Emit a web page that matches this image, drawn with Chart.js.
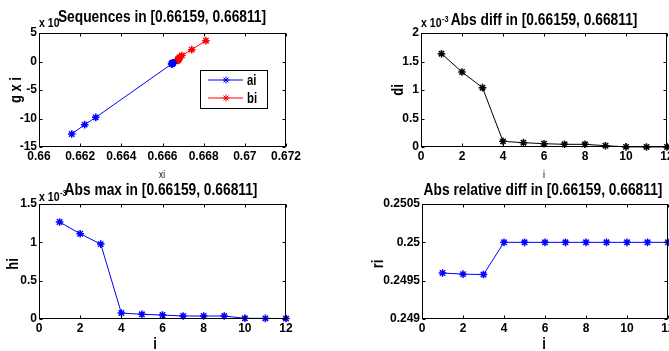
<!DOCTYPE html>
<html>
<head>
<meta charset="utf-8">
<script src="https://cdn.jsdelivr.net/npm/chart.js@4.4.0/dist/chart.umd.min.js"></script>
<style>
  html, body { margin: 0; padding: 0; background: #fff; overflow: hidden; width: 669px; height: 351px; }
  .plot { position: absolute; }
</style>
</head>
<body>
<div class="plot" style="left:0;top:0;width:335px;height:185px"><canvas id="c-seq"></canvas></div>
<div class="plot" style="left:335px;top:0;width:400px;height:185px"><canvas id="c-di"></canvas></div>
<div class="plot" style="left:0;top:175px;width:335px;height:176px"><canvas id="c-hi"></canvas></div>
<div class="plot" style="left:335px;top:175px;width:400px;height:176px"><canvas id="c-ri"></canvas></div>
<script>
// values
const IDX = [1, 2, 3, 4, 5, 6, 7, 8, 9, 10, 11, 12];

// sequences (g shown in the plot's own x10 units)
const aiX = [0.66159, 0.66222, 0.66276, 0.66644, 0.66646, 0.66647, 0.66648, 0.66649, 0.66650, 0.66651, 0.66651, 0.66652];
const aiG = [-12.72, -11.08, -9.80, -0.45, -0.40, -0.36, -0.33, -0.30, -0.28, -0.25, -0.24, -0.23];
const biX = [0.66811, 0.66742, 0.66694, 0.66684, 0.66680, 0.66678, 0.66677, 0.66676, 0.66675, 0.66674, 0.66674, 0.66674];
const biG = [3.65, 2.08, 1.05, 0.75, 0.55, 0.45, 0.38, 0.32, 0.28, 0.22, 0.20, 0.18];

const diVals = [1.637e-3, 1.316e-3, 1.041e-3, 0.099e-3, 0.076e-3, 0.058e-3, 0.047e-3, 0.047e-3, 0.023e-3, 0.002e-3, 0.001e-3, 0.0005e-3];
const hiVals = [1.265e-3, 1.112e-3, 0.977e-3, 0.078e-3, 0.061e-3, 0.052e-3, 0.039e-3, 0.039e-3, 0.039e-3, 0.009e-3, 0.008e-3, 0.006e-3];
const riVals = [0.24960, 0.249585, 0.24958, 0.25, 0.25, 0.25, 0.25, 0.25, 0.25, 0.25, 0.25, 0.25];

const seqXTicks = [0.66, 0.662, 0.664, 0.666, 0.668, 0.67, 0.672];
const seqYTicks = [-15, -10, -5, 0, 5];
const iTicks = [0, 2, 4, 6, 8, 10, 12];
const diYTicks = [0, 0.5e-3, 1e-3, 1.5e-3, 2e-3];
const hiYTicks = [0, 0.5e-3, 1e-3, 1.5e-3];
const riYTicks = [0.249, 0.2495, 0.25, 0.2505];

const FONT = '"Liberation Sans", Arial, sans-serif';
const NARROW = 0.81; // the figure's text is a squeezed helvetica
const BLUE = '#0000ff', RED = '#ff0000', BLACK = '#000000';
const TICK = 3;

const fmtPlain = (dec) => (v) => String(Number(Number(v).toFixed(dec)));
const fmtMilli = (v) => String(Number((Number(v) * 1000).toFixed(1)));

function axis(min, max, ticks, fmt, fit) {
  return {
    type: 'linear', min, max,
    afterBuildTicks: s => { s.ticks = ticks.map(v => ({ value: v })); },
    afterFit: fit,
    grid: { display: false, drawTicks: false },
    border: { display: false },
    ticks: {
      color: BLACK, padding: 2, autoSkip: false, maxRotation: 0,
      font: { family: FONT, size: 12, weight: 'bold' },
      callback: fmt
    }
  };
}

function series(label, xs, ys, color) {
  return {
    label,
    data: xs.map((x, k) => ({ x, y: ys[k] })),
    borderColor: color, backgroundColor: color,
    borderWidth: 1, tension: 0, clip: false,
    pointStyle: 'star', pointRadius: 3.8, pointBorderWidth: 1.5,
    pointBorderColor: color, pointBackgroundColor: color
  };
}

function text(ctx, s, x, y, size, weight, align, rot) {
  ctx.save();
  ctx.font = weight + ' ' + size + 'px ' + FONT;
  ctx.fillStyle = BLACK;
  ctx.textAlign = align || 'left';
  ctx.textBaseline = 'alphabetic';
  ctx.translate(x, y);
  if (rot) ctx.rotate(rot);
  ctx.scale(NARROW, 1);
  ctx.fillText(s, 0, 0);
  ctx.restore();
}

// MATLAB-like box with inward ticks, titles, labels and legend
const matlabAxes = {
  id: 'matlabAxes',
  afterDraw(chart, args, o) {
    const { ctx, chartArea: a } = chart;
    const sx = chart.scales.x, sy = chart.scales.y;
    ctx.save();
    ctx.strokeStyle = BLACK;
    ctx.lineWidth = 1;
    const L = a.left + 0.5, R = a.right - 0.5, T = a.top + 0.5, B = a.bottom - 0.5;
    ctx.strokeRect(L, T, R - L, B - T);
    ctx.beginPath();
    sx.ticks.forEach(t => {
      const p = Math.round(sx.getPixelForValue(t.value)) + 0.5;
      ctx.moveTo(p, B); ctx.lineTo(p, B - TICK);
      ctx.moveTo(p, T); ctx.lineTo(p, T + TICK);
    });
    sy.ticks.forEach(t => {
      const p = Math.round(sy.getPixelForValue(t.value)) + 0.5;
      ctx.moveTo(L, p); ctx.lineTo(L + TICK, p);
      ctx.moveTo(R, p); ctx.lineTo(R - TICK, p);
    });
    ctx.stroke();
    ctx.restore();

    if (o.exp) {
      text(ctx, 'x 10', o.exp.x, o.exp.y, 13, 'bold', 'left');
      if (o.exp.sup) text(ctx, o.exp.sup, o.exp.x + 21, o.exp.y - 5, 9, 'bold', 'left');
    }
    text(ctx, o.title.text, o.title.x, o.title.y, 17, 'bold', 'center');
    text(ctx, o.ylabel.text, o.ylabel.x, o.ylabel.y, 16, 'bold', 'center', -Math.PI / 2);
    text(ctx, o.xlabel.text, o.xlabel.x, o.xlabel.y, o.xlabel.size, o.xlabel.weight, 'center');

    if (o.legend) {
      const g = o.legend;
      ctx.save();
      ctx.fillStyle = '#fff';
      ctx.fillRect(g.x, g.y, g.w, g.h);
      ctx.strokeStyle = BLACK;
      ctx.lineWidth = 1;
      ctx.strokeRect(g.x + 0.5, g.y + 0.5, g.w, g.h);
      chart.data.datasets.forEach((ds, k) => {
        const ry = g.rows[k];
        ctx.strokeStyle = ds.borderColor;
        ctx.lineWidth = 1;
        ctx.beginPath();
        ctx.moveTo(g.x + 8, ry); ctx.lineTo(g.x + 43, ry);
        ctx.stroke();
        ctx.fillStyle = ds.borderColor;
        Chart.helpers.drawPoint(ctx, { pointStyle: 'star', radius: 3.5, borderWidth: 1.4 }, g.x + 26, ry);
        text(ctx, ds.label, g.x + 47, ry + 5, 14, 'bold', 'left');
      });
      ctx.restore();
    }
  }
};

function makeChart(id, datasets, scales, padding, annot) {
  return new Chart(document.getElementById(id), {
    type: 'line',
    data: { datasets },
    options: {
      responsive: true, maintainAspectRatio: false, animation: false, devicePixelRatio: 1,
      layout: { padding },
      scales,
      plugins: { legend: { display: false }, tooltip: { enabled: false }, title: { display: false }, matlabAxes: annot },
      events: []
    },
    plugins: [matlabAxes]
  });
}

const fitW = w => s => { s.width = w; };
const fitH = h => s => { s.height = h; };

makeChart('c-seq',
  [series('ai', aiX, aiG, BLUE), series('bi', biX, biG, RED)],
  { x: axis(0.66, 0.672, seqXTicks, fmtPlain(3), fitH(20)), y: axis(-15, 5, seqYTicks, fmtPlain(0), fitW(39)) },
  { left: 0, top: 33, right: 49, bottom: 18 },
  {
    title: { text: 'Sequences in [0.66159, 0.66811]', x: 162, y: 22 },
    exp: { x: 39, y: 27 },
    ylabel: { text: 'g x i', x: 21, y: 90 },
    xlabel: { text: 'xi', x: 162, y: 178, size: 10, weight: 'normal' },
    legend: { x: 200, y: 70, w: 67, h: 38, rows: [80, 98] }
  });

makeChart('c-di',
  [series('di', IDX, diVals, BLACK)],
  { x: axis(0, 12, iTicks, fmtPlain(0), fitH(20)), y: axis(0, 2e-3, diYTicks, fmtMilli, fitW(86)) },
  { left: 0, top: 33, right: 68, bottom: 18 },
  {
    title: { text: 'Abs diff in [0.66159, 0.66811]', x: 209, y: 25 },
    exp: { x: 86, y: 27, sup: '-3' },
    ylabel: { text: 'di', x: 68, y: 90 },
    xlabel: { text: 'i', x: 209, y: 178, size: 11, weight: 'normal' }
  });

makeChart('c-hi',
  [series('hi', IDX, hiVals, BLUE)],
  { x: axis(0, 12, iTicks, fmtPlain(0), fitH(20)), y: axis(0, 1.5e-3, hiYTicks, fmtMilli, fitW(39)) },
  { left: 0, top: 29, right: 49, bottom: 12 },
  {
    title: { text: 'Abs max in [0.66159, 0.66811]', x: 161, y: 20 },
    exp: { x: 39, y: 26, sup: '-3' },
    ylabel: { text: 'hi', x: 18, y: 89 },
    xlabel: { text: 'i', x: 155, y: 174, size: 16, weight: 'bold' }
  });

makeChart('c-ri',
  [series('ri', IDX, riVals, BLUE)],
  { x: axis(0, 12, iTicks, fmtPlain(0), fitH(20)), y: axis(0.249, 0.2505, riYTicks, fmtPlain(4), fitW(87)) },
  { left: 0, top: 29, right: 67, bottom: 12 },
  {
    title: { text: 'Abs relative diff in [0.66159, 0.66811]', x: 208, y: 20 },
    ylabel: { text: 'ri', x: 48, y: 89 },
    xlabel: { text: 'i', x: 209, y: 174, size: 16, weight: 'bold' }
  });
</script>
</body>
</html>
